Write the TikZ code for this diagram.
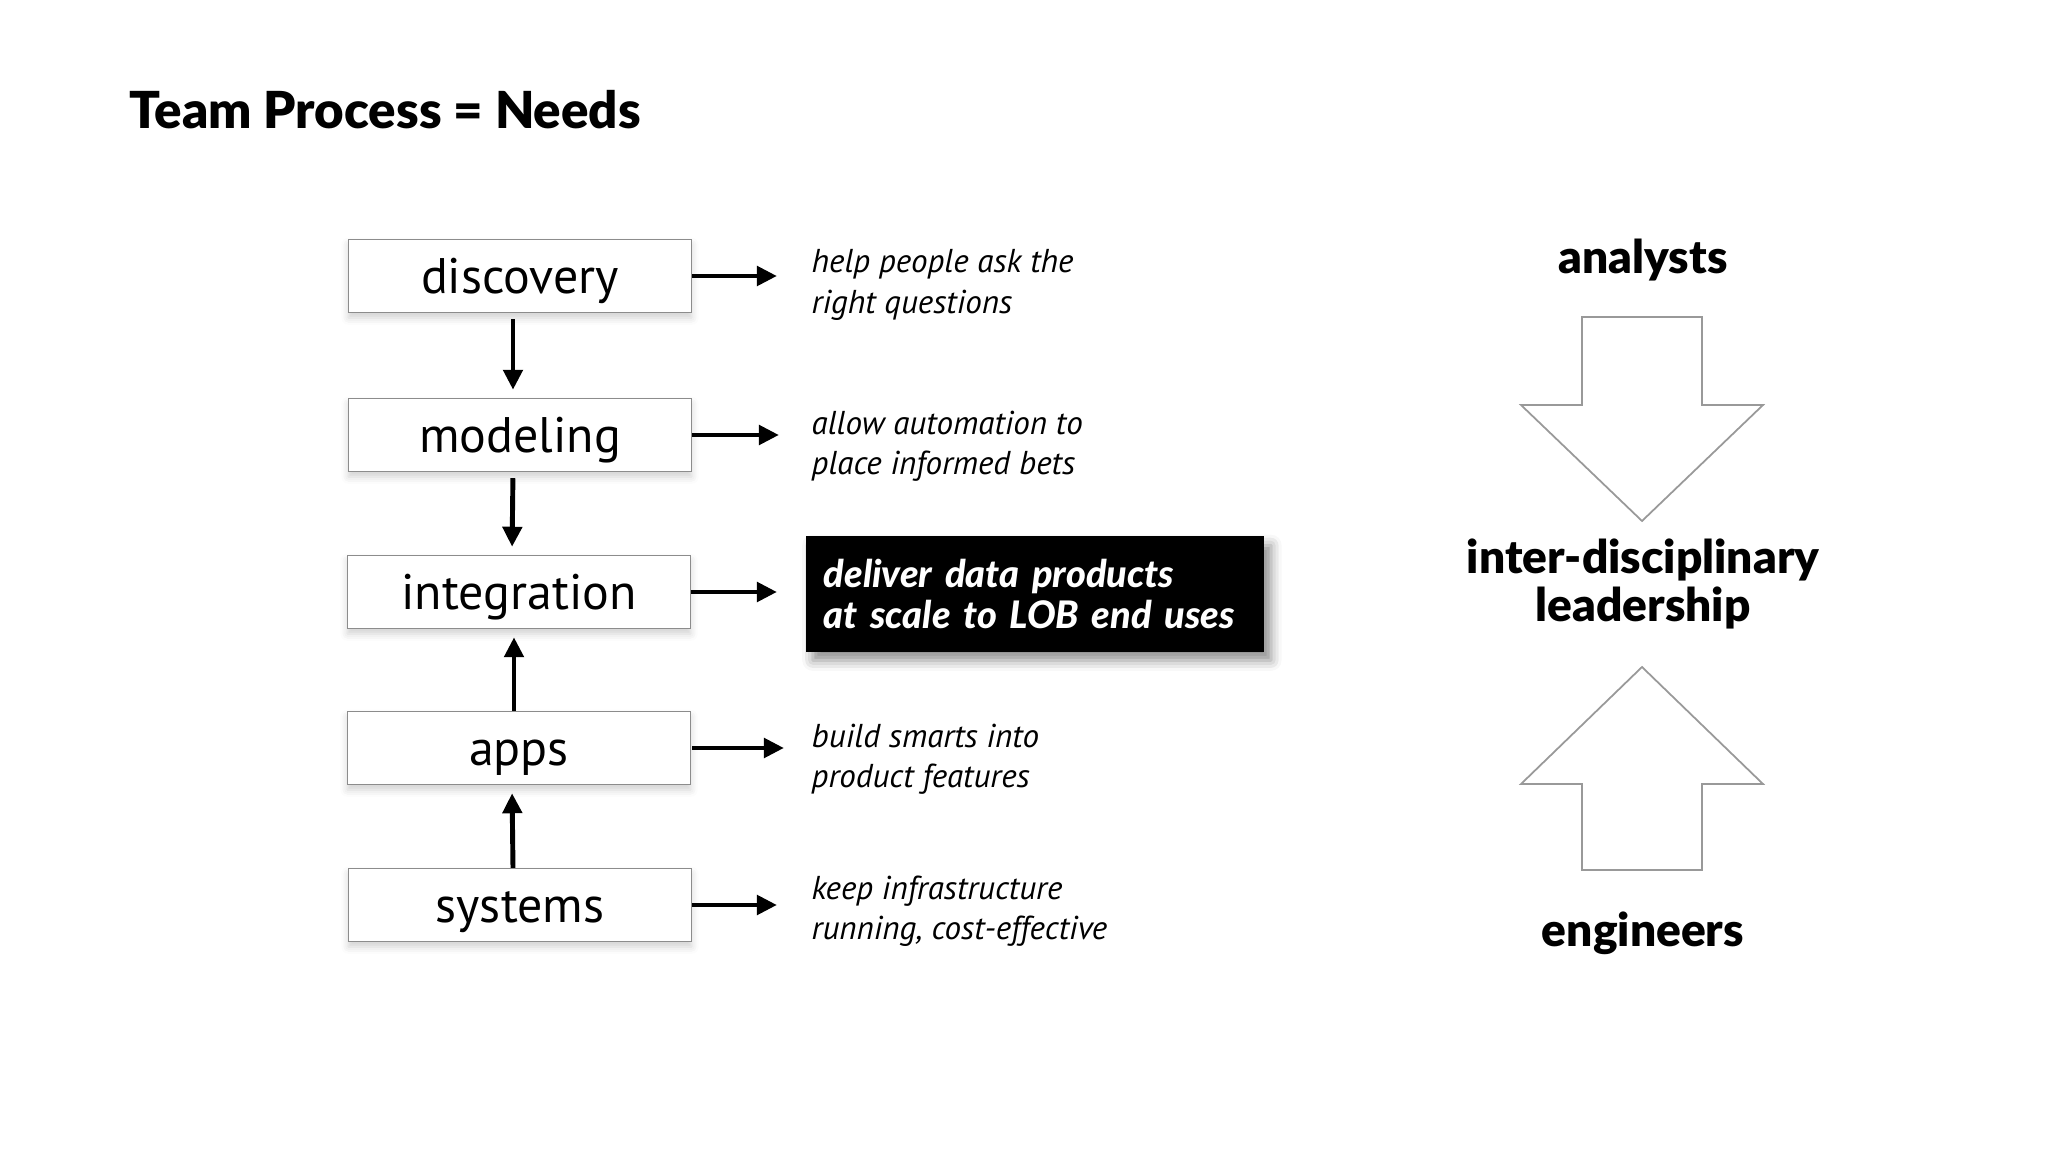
\documentclass[tikz,border=0pt]{standalone}
\usepackage{fontspec}
\setmainfont{PT Sans}
\newfontfamily\heavy{Lato Black}
\newfontfamily\heavyit{Lato Black Italic}
\usetikzlibrary{arrows.meta,shadows.blur}
\begin{document}
\begin{tikzpicture}[x=0.01cm,y=-0.01cm,
  stage/.style={draw=black!45, line width=0.4pt, fill=white,
    minimum width=3.43cm, minimum height=0.73cm, inner sep=0pt,
    text height=0.35cm, text depth=0cm,
    font=\fontsize{14.2}{16}\selectfont,
    blur shadow={shadow xshift=0pt, shadow yshift=-1.5pt, shadow opacity=18, shadow blur radius=2pt}},
  note/.style={align=left, anchor=west, inner sep=0pt,
    font=\fontsize{9.4}{11.5}\selectfont\itshape},
  flow/.style={line width=1.4pt, -{Triangle[length=0.2cm,width=0.19cm]}},
  bigarrow/.style={draw=black!40, line width=0.5pt, fill=white},
  side/.style={font=\heavy\fontsize{13.1}{13.6}\selectfont, align=center, inner sep=0pt}
]
\useasboundingbox (0,0) rectangle (2048,1152);

\node[anchor=base west, inner sep=0pt, font=\heavy\fontsize{14.5}{16}\selectfont] (title) at (129,129) {Team Process = Needs};

% stages
\node[stage] (disc)  at (520,276) {discovery};
\node[stage] (mod)   at (520,435) {modeling};
\node[stage] (integ) at (519,592) {integration};
\node[stage] (apps)  at (519,748) {apps};
\node[stage] (sys)   at (520,905) {systems};

% notes
\node[note] (n1) at (811,285) {help people ask the\\right questions};
\node[note] (n2) at (811,446) {allow automation to\\place informed bets};
\node[note] (n4) at (811,759) {build smarts into\\product features};
\node[note] (n5) at (811,911) {keep infrastructure\\running, cost-effective};

\node[fill=black, text=white, align=left, anchor=west,
      minimum width=4.58cm, minimum height=1.15cm, inner xsep=0.18cm,
      text width=4.22cm, font=\heavyit\fontsize{10.8}{11.5}\selectfont,
      blur shadow={shadow xshift=2pt, shadow yshift=-2.5pt, shadow blur radius=3pt, shadow opacity=45}]
  (deliv) at (805,594) {deliver data products\\at scale to LOB end uses};

% vertical flow
\draw[flow, shorten <=0.06cm, shorten >=0.08cm] ([xshift=-0.07cm]disc.south) -- ([xshift=-0.07cm]mod.north);
\draw[flow, shorten <=0.06cm, shorten >=0.08cm] ([xshift=-0.07cm]mod.south) -- ([xshift=-0.07cm]integ.north);
\draw[flow, shorten >=0.08cm] ([xshift=-0.05cm]apps.north) -- ([xshift=-0.05cm]integ.south);
\draw[flow, shorten >=0.08cm] ([xshift=-0.07cm]sys.north) -- ([xshift=-0.07cm]apps.south);

% horizontal flow
\draw[flow, shorten >=0.34cm] (disc.east) -- (disc.east -| n1.west);
\draw[flow, shorten >=0.32cm] (mod.east) -- (mod.east -| n2.west);
\draw[flow, shorten >=0.28cm] (integ.east) -- (integ.east -| deliv.west);
\draw[flow, shorten >=0.27cm, shorten <=0.01cm] (apps.east) -- (apps.east -| n4.west);
\draw[flow, shorten >=0.34cm] (sys.east) -- (sys.east -| n5.west);

% right side
\node[side] (an) at (1643,260) {analysts};
\node[side] (lead) at (1643,584) {inter-disciplinary\\leadership};
\node[side] (eng) at (1643,933) {engineers};

\draw[bigarrow] (1582,317) -- (1702,317) -- (1702,405) -- (1763,405) -- (1642,521) -- (1521,405) -- (1582,405) -- cycle;
\draw[bigarrow] (1582,870) -- (1702,870) -- (1702,784) -- (1763,784) -- (1642,667) -- (1521,784) -- (1582,784) -- cycle;
\end{tikzpicture}
\end{document}
